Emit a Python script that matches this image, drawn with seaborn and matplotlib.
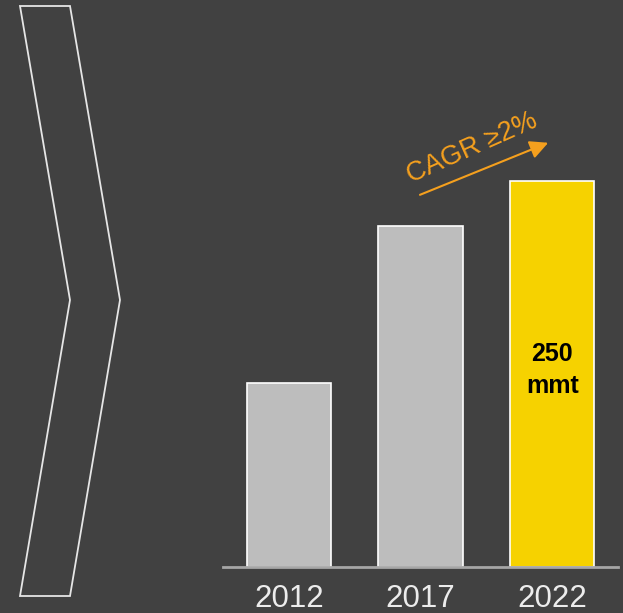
import matplotlib
matplotlib.use('Agg')
import matplotlib.pyplot as plt
import seaborn as sns
import pandas as pd
from matplotlib.patches import Polygon

# data
years = ['2012', '2017', '2022']
volumes = [119, 221, 250]   # mmt
bar_colors = ['#bdbdbd', '#bdbdbd', '#f6d200']

bg = '#414141'
orange = '#f5a01e'

sns.set_style('white')
plt.rcParams['font.family'] = ['Liberation Sans', 'DejaVu Sans']

fig = plt.figure(figsize=(6.23, 6.13), dpi=100, facecolor=bg)

# overlay in pixel coords for the chevron decoration
deco = fig.add_axes([0, 0, 1, 1])
deco.set_xlim(0, 623)
deco.set_ylim(613, 0)
deco.axis('off')
deco.patch.set_alpha(0)
chevron = Polygon([(20, 6), (70, 6), (120, 300), (70, 596), (20, 596), (70, 300)],
                  closed=True, fill=False, edgecolor='#e6e6e6', linewidth=1.3)
deco.add_patch(chevron)

# bar axes
ax = fig.add_axes([223 / 623, 46 / 613, 395 / 623, 567 / 613])
ax.set_facecolor('none')
df = pd.DataFrame({'year': years, 'volume': volumes})
sns.barplot(data=df, x='year', y='volume', hue='year', palette=bar_colors,
            saturation=1, legend=False, width=0.64, edgecolor='white',
            linewidth=1.2, ax=ax)
ax.set_xlim(-0.5, 2.5)
ax.set_ylim(0, 367)
for s in ['top', 'right', 'left']:
    ax.spines[s].set_visible(False)
ax.spines['bottom'].set_color('#a6a6a6')
ax.spines['bottom'].set_linewidth(2)
ax.set_yticks([])
ax.set_xlabel('')
ax.set_ylabel('')
ax.tick_params(axis='x', length=0, pad=12, labelsize=22.5, labelcolor='#ececec')

ax.text(2, volumes[2] * 0.51, f'{volumes[2]}\nmmt', ha='center', va='center',
        fontsize=18, fontweight='bold', color='black', linespacing=1.45)

# CAGR arrow
ax.annotate('', xy=(1.97, 274.6), xytext=(0.996, 240.9),
            arrowprops=dict(arrowstyle='-|>,head_length=1.1,head_width=0.55',
                            color=orange, lw=1.5, shrinkA=0, shrinkB=0))
ax.text(1.39, 271, 'CAGR \u22652%', rotation=24, ha='center', va='center',
        fontsize=19.5, color=orange, rotation_mode='anchor')

fig.savefig('out.png', dpi=100, facecolor=bg)
